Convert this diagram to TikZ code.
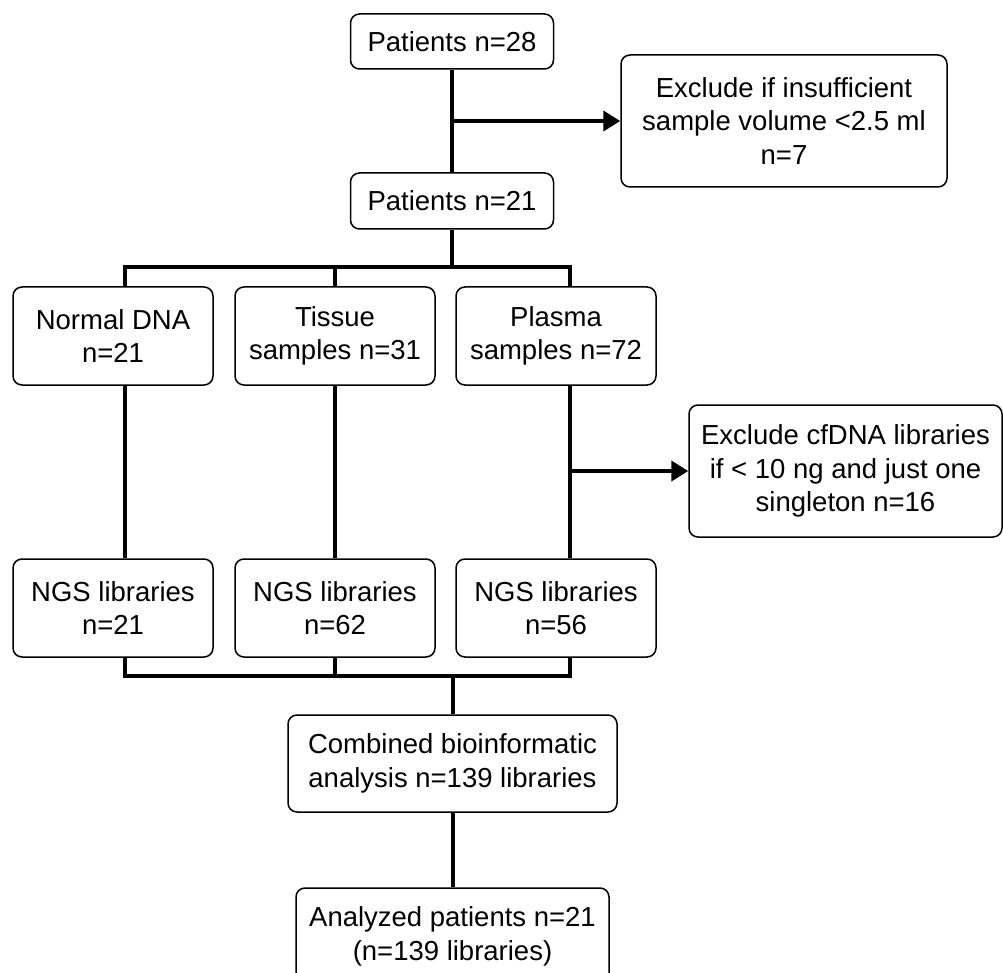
\documentclass[tikz,border=0pt]{standalone}
\usepackage{fontspec}
\setmainfont{Liberation Sans}
\usetikzlibrary{arrows.meta}
\begin{document}
\begin{tikzpicture}[x=1pt,y=-1pt,
  box/.style={draw=black, line width=1.5pt, rounded corners=9pt, align=center,
    font=\fontsize{27.5}{33.5}\selectfont, inner sep=0pt},
  conn/.style={line width=4pt, draw=black},
  arr/.style={conn, -{Triangle[length=17pt,width=20pt]}}]
\useasboundingbox (0,0) rectangle (1003,973);
\clip (0,0) rectangle (1003,973);
% nodes
\node[box, minimum width=203pt, minimum height=55pt] (p28) at (452,41.5) {Patients n=28};
\node[box, minimum width=203pt, minimum height=56pt] (p21) at (452,201) {Patients n=21};
\node[box, minimum width=326pt, minimum height=132pt] (ex1) at (784,121) {Exclude if insufficient\\sample volume <2.5 ml\\n=7};
\node[box, minimum width=200pt, minimum height=98pt] (normal) at (113,336) {Normal DNA\\n=21};
\node[box, minimum width=200pt, minimum height=98pt] (tissue) at (335,336) {Tissue\\samples n=31};
\node[box, minimum width=200pt, minimum height=98pt] (plasma) at (556,336) {Plasma\\samples n=72};
\node[box, minimum width=313pt, minimum height=132pt] (ex2) at (845.5,471) {Exclude cfDNA libraries\\if < 10 ng and just one\\singleton n=16};
\node[box, minimum width=200pt, minimum height=98pt] (ngs1) at (113,608) {NGS libraries\\n=21};
\node[box, minimum width=200pt, minimum height=98pt] (ngs2) at (335,608) {NGS libraries\\n=62};
\node[box, minimum width=200pt, minimum height=98pt] (ngs3) at (556,608) {NGS libraries\\n=56};
\node[box, minimum width=329pt, minimum height=97pt] (comb) at (452.5,763.5) {Combined bioinformatic\\analysis n=139 libraries};
\node[box, minimum width=313pt, minimum height=97pt] (ana) at (452.5,936.5) {Analyzed patients n=21\\(n=139 libraries)};
% connectors
\draw[conn] (p28.south) -- (p21.north);
\draw[arr] (p28.south |- ex1.west) -- (ex1.west);
\draw[conn] (p21.south) -- ++(0,39);
\draw[conn, line join=miter] ([xshift=12pt]normal.north) -- ++(0,-19) -| ([xshift=14pt]plasma.north);
\draw[conn] (tissue.north) -- ++(0,-19);
\draw[conn] ([xshift=12pt]normal.south) -- ([xshift=12pt]ngs1.north);
\draw[conn] (tissue.south) -- (ngs2.north);
\draw[conn] ([xshift=14pt]plasma.south) -- ([xshift=14pt]ngs3.north);
\coordinate (plx) at ([xshift=14pt]plasma.south);
\draw[arr] (plx |- ex2.west) -- (ex2.west);
\draw[conn, line join=miter] ([xshift=12pt]ngs1.south) -- ++(0,18) -| ([xshift=14pt]ngs3.south);
\draw[conn] (ngs2.south) -- ++(0,18);
\draw[conn] (comb.north) -- ++(0,-40);
\draw[conn] (comb.south) -- (ana.north);
\end{tikzpicture}
\end{document}
